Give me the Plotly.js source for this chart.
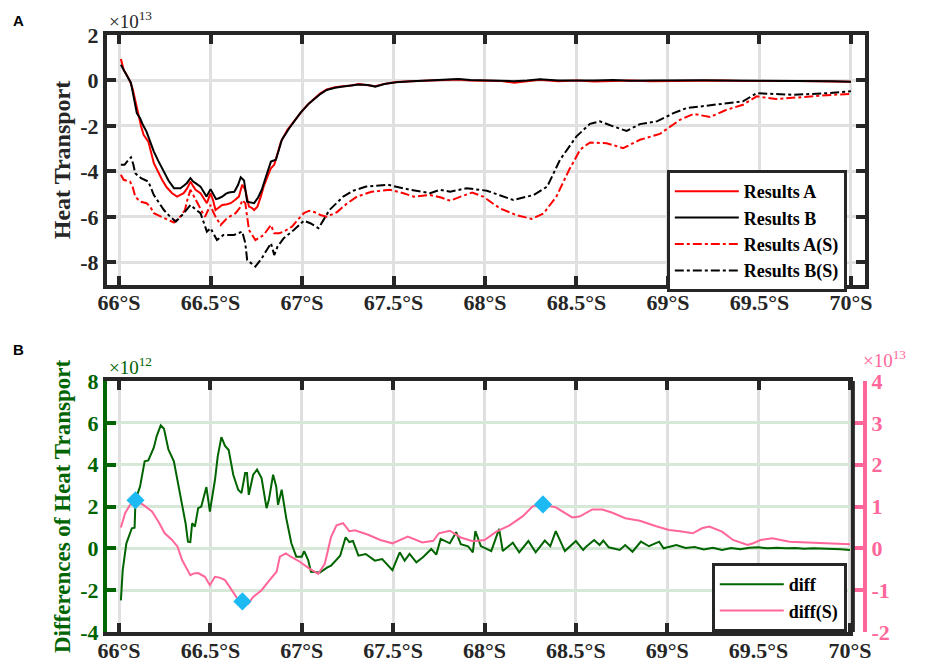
<!DOCTYPE html>
<html>
<head>
<meta charset="utf-8">
<script src="https://cdn.plot.ly/plotly-3.0.1.min.js"></script>
<style>html,body{margin:0;padding:0;background:#fff;}#chart{width:933px;height:664px;}</style>
</head>
<body>
<div id="chart"></div>
<script>
// ---- data (top panel values in units of 1e13; bottom: diff in 1e12, diff(S) in 1e13) ----
const latTicks = [66, 66.5, 67, 67.5, 68, 68.5, 69, 69.5, 70];
const latTickText = ['66°S', '66.5°S', '67°S', '67.5°S', '68°S', '68.5°S', '69°S', '69.5°S', '70°S'];
const topTicks = [-8, -6, -4, -2, 0, 2];
const topTickText = ['-8', '-6', '-4', '-2', '0', '2'];
const diffTicks = [-4, -2, 0, 2, 4, 6, 8];
const diffTickText = ['-4', '-2', '0', '2', '4', '6', '8'];
const diffSTicks = [-2, -1, 0, 1, 2, 3, 4];
const diffSTickText = ['-2', '-1', '0', '1', '2', '3', '4'];

const resultsA = [[66.01,0.94],[66.025,0.47],[66.045,0.2],[66.06,-0.04],[66.075,-0.4],[66.088,-0.85],[66.106,-1.58],[66.12,-2.0],[66.134,-2.39],[66.16,-2.69],[66.19,-3.64],[66.21,-4.0],[66.235,-4.37],[66.26,-4.7],[66.29,-4.96],[66.317,-5.11],[66.353,-4.96],[66.372,-4.75],[66.39,-4.45],[66.405,-4.65],[66.418,-4.81],[66.445,-4.96],[66.462,-5.15],[66.48,-5.40],[66.5,-4.96],[66.515,-5.3],[66.527,-5.70],[66.545,-5.6],[66.564,-5.48],[66.59,-5.45],[66.61,-5.40],[66.635,-5.25],[66.655,-5.11],[66.673,-4.59],[66.69,-4.81],[66.71,-5.55],[66.725,-5.6],[66.738,-5.70],[66.756,-5.55],[66.775,-5.1],[66.79,-4.67],[66.81,-4.25],[66.83,-3.86],[66.848,-3.71],[66.865,-3.2],[66.885,-2.69],[66.92,-2.17],[66.95,-1.85],[66.976,-1.59],[67.0,-1.35],[67.03,-1.07],[67.06,-0.86],[67.1,-0.56],[67.135,-0.39],[67.18,-0.3],[67.225,-0.25],[67.27,-0.22],[67.31,-0.16],[67.36,-0.2],[67.40,-0.25],[67.45,-0.15],[67.515,-0.07],[67.6,-0.03],[67.71,-0.01],[67.8,0.02],[67.855,0.04],[67.92,0.0],[68.0,-0.02],[68.09,-0.02],[68.16,-0.1],[68.23,-0.05],[68.3,0.03],[68.4,-0.03],[68.5,0.0],[68.6,-0.05],[68.7,-0.01],[68.8,0.0],[68.9,-0.03],[69.0,-0.02],[69.1,0.0],[69.2,-0.01],[69.3,0.0],[69.4,-0.02],[69.5,-0.01],[69.6,0.0],[69.7,-0.02],[69.8,-0.03],[69.9,-0.03],[70.0,-0.06]];

const resultsB = [[66.01,0.69],[66.025,0.45],[66.04,0.25],[66.065,-0.11],[66.08,-0.7],[66.097,-1.44],[66.115,-1.66],[66.13,-1.95],[66.15,-2.25],[66.17,-2.7],[66.19,-3.13],[66.215,-3.55],[66.245,-4.0],[66.27,-4.4],[66.30,-4.74],[66.335,-4.74],[66.355,-4.62],[66.37,-4.52],[66.39,-4.30],[66.405,-4.45],[66.418,-4.52],[66.445,-4.67],[66.462,-4.9],[66.478,-5.11],[66.5,-4.78],[66.515,-5.0],[66.53,-5.22],[66.545,-5.18],[66.564,-5.11],[66.585,-4.98],[66.6,-4.93],[66.63,-4.90],[66.65,-4.6],[66.665,-4.26],[66.683,-4.40],[66.70,-5.33],[66.72,-5.35],[66.738,-5.40],[66.76,-5.15],[66.78,-4.81],[66.80,-4.3],[66.83,-3.57],[66.857,-3.49],[66.875,-3.0],[66.89,-2.61],[66.93,-2.10],[66.96,-1.75],[66.99,-1.44],[67.04,-1.0],[67.07,-0.8],[67.10,-0.6],[67.135,-0.42],[67.18,-0.32],[67.225,-0.27],[67.27,-0.22],[67.31,-0.18],[67.36,-0.2],[67.40,-0.27],[67.45,-0.16],[67.515,-0.08],[67.6,-0.04],[67.71,-0.01],[67.8,0.03],[67.855,0.06],[67.92,0.02],[68.0,0.0],[68.09,-0.01],[68.16,-0.03],[68.23,0.0],[68.3,0.05],[68.4,0.0],[68.5,-0.01],[68.6,0.0],[68.7,0.02],[68.8,-0.01],[68.9,0.0],[69.0,0.01],[69.1,0.0],[69.2,0.01],[69.3,0.0],[69.4,0.0],[69.5,0.0],[69.6,0.0],[69.7,-0.01],[69.8,-0.02],[69.9,-0.03],[70.0,-0.06]];

const resultsAS = [[66.01,-4.15],[66.025,-4.37],[66.06,-4.45],[66.075,-4.7],[66.088,-5.11],[66.1,-5.2],[66.115,-5.33],[66.15,-5.40],[66.17,-5.55],[66.19,-5.84],[66.22,-5.95],[66.245,-6.06],[66.27,-6.15],[66.30,-6.25],[66.335,-5.99],[66.36,-5.70],[66.375,-5.2],[66.39,-4.81],[66.41,-5.11],[66.436,-5.55],[66.455,-5.8],[66.47,-5.99],[66.5,-5.48],[66.515,-5.8],[66.527,-5.99],[66.555,-6.36],[66.59,-6.06],[66.637,-5.84],[66.66,-5.6],[66.673,-5.26],[66.69,-5.40],[66.71,-6.58],[66.745,-7.02],[66.79,-6.80],[66.83,-6.36],[66.848,-6.72],[66.875,-6.72],[66.9,-6.65],[66.945,-6.43],[66.98,-6.1],[67.01,-5.84],[67.04,-5.73],[67.07,-5.8],[67.1,-5.92],[67.135,-5.99],[67.19,-5.8],[67.24,-5.45],[67.30,-5.11],[67.38,-4.9],[67.48,-4.81],[67.55,-4.95],[67.61,-5.11],[67.70,-5.04],[67.76,-5.15],[67.81,-5.29],[67.87,-5.1],[67.93,-4.93],[67.99,-5.11],[68.08,-5.62],[68.17,-5.92],[68.255,-6.09],[68.32,-5.85],[68.39,-5.11],[68.46,-3.93],[68.52,-3.05],[68.555,-2.83],[68.575,-2.73],[68.665,-2.76],[68.755,-2.98],[68.847,-2.61],[68.956,-2.35],[69.066,-1.73],[69.14,-1.47],[69.23,-1.61],[69.32,-1.29],[69.41,-1.07],[69.485,-0.70],[69.59,-0.82],[69.76,-0.70],[69.9,-0.63],[70.0,-0.59]];

const resultsBS = [[66.01,-3.71],[66.03,-3.71],[66.05,-3.5],[66.065,-3.38],[66.078,-3.7],[66.088,-4.08],[66.12,-4.30],[66.16,-4.45],[66.19,-5.04],[66.22,-5.4],[66.245,-5.70],[66.28,-6.0],[66.31,-6.21],[66.345,-5.92],[66.39,-5.48],[66.418,-5.67],[66.445,-5.84],[66.48,-6.65],[66.5,-6.50],[66.535,-7.02],[66.57,-6.80],[66.628,-6.80],[66.673,-6.65],[66.69,-7.16],[66.70,-7.90],[66.745,-8.19],[66.78,-7.82],[66.83,-7.16],[66.848,-7.68],[66.866,-7.31],[66.90,-6.94],[66.955,-6.58],[67.01,-6.17],[67.045,-6.28],[67.09,-6.5],[67.12,-6.1],[67.15,-5.70],[67.225,-5.11],[67.28,-4.85],[67.35,-4.67],[67.47,-4.59],[67.59,-4.81],[67.70,-4.96],[67.755,-4.81],[67.81,-4.89],[67.90,-4.74],[68.01,-4.85],[68.08,-5.05],[68.155,-5.26],[68.265,-5.04],[68.34,-4.67],[68.41,-3.49],[68.50,-2.46],[68.574,-1.91],[68.628,-1.80],[68.70,-2.02],[68.774,-2.22],[68.847,-1.92],[68.94,-1.80],[69.03,-1.44],[69.10,-1.22],[69.21,-1.11],[69.32,-1.0],[69.41,-0.92],[69.485,-0.56],[69.575,-0.59],[69.685,-0.63],[69.87,-0.56],[70.0,-0.48]];

const diffSeries = [[66.01,-2.49],[66.02,-1.04],[66.04,0.24],[66.07,0.96],[66.085,0.99],[66.09,2.32],[66.115,2.96],[66.14,4.16],[66.16,4.2],[66.19,4.81],[66.206,5.37],[66.228,5.88],[66.246,5.72],[66.27,4.73],[66.30,4.16],[66.318,3.28],[66.345,2.16],[66.364,1.20],[66.377,0.32],[66.39,0.30],[66.40,1.2],[66.415,1.04],[66.433,1.92],[66.45,2.0],[66.478,2.93],[66.497,1.76],[66.525,3.28],[66.54,4.40],[66.56,5.32],[66.58,4.9],[66.6,4.7],[66.625,3.52],[66.652,2.80],[66.67,2.64],[66.69,3.6],[66.70,3.6],[66.71,2.56],[66.734,3.52],[66.755,3.76],[66.78,3.36],[66.807,1.92],[66.82,2.32],[66.843,3.52],[66.86,2.96],[66.87,2.08],[66.89,2.80],[66.915,1.44],[66.943,0.24],[66.97,-0.40],[67.0,-0.4],[67.013,-0.13],[67.035,-0.56],[67.05,-1.12],[67.09,-1.12],[67.1,-1.15],[67.14,-0.91],[67.16,-0.83],[67.21,-0.35],[67.24,0.53],[67.26,0.3],[67.28,0.35],[67.31,-0.35],[67.35,-0.27],[67.40,-0.59],[67.44,-0.51],[67.496,-1.04],[67.536,-0.19],[67.563,-0.59],[67.59,-0.27],[67.627,-0.67],[67.663,-0.43],[67.709,-0.03],[67.736,-0.30],[67.76,0.45],[67.81,0.24],[67.845,0.77],[67.87,0.2],[67.91,0.1],[67.936,-0.19],[67.95,0.82],[67.98,0.11],[68.037,-0.13],[68.08,0.93],[68.10,-0.13],[68.155,0.27],[68.19,-0.19],[68.24,0.35],[68.28,-0.19],[68.33,0.37],[68.36,0.1],[68.39,0.82],[68.44,-0.13],[68.50,0.35],[68.54,-0.08],[68.556,0.08],[68.60,0.40],[68.63,0.16],[68.65,0.37],[68.68,0.05],[68.74,-0.08],[68.77,0.16],[68.81,-0.16],[68.856,0.32],[68.90,0.1],[68.956,0.32],[68.98,0.0],[69.05,0.16],[69.1,0.02],[69.15,0.06],[69.2,-0.05],[69.25,0.03],[69.3,-0.08],[69.35,0.02],[69.4,-0.04],[69.45,0.03],[69.5,0.05],[69.55,0.0],[69.6,0.03],[69.65,0.0],[69.7,0.02],[69.75,-0.02],[69.8,0.01],[69.85,0.0],[69.9,-0.02],[69.95,-0.04],[70.0,-0.08]];

const diffSSeries = [[66.01,0.50],[66.033,0.84],[66.06,1.04],[66.093,1.14],[66.133,1.04],[66.18,0.88],[66.215,0.64],[66.25,0.36],[66.29,0.20],[66.32,0.04],[66.345,-0.28],[66.39,-0.64],[66.41,-0.6],[66.433,-0.59],[66.47,-0.68],[66.497,-0.88],[66.525,-0.68],[66.55,-0.7],[66.58,-0.76],[66.625,-1.04],[66.652,-1.23],[66.676,-1.28],[66.707,-1.32],[66.734,-1.16],[66.78,-1.0],[66.816,-0.80],[66.862,-0.56],[66.88,-0.20],[66.913,-0.12],[66.94,-0.2],[66.989,-0.32],[67.04,-0.48],[67.09,-0.61],[67.126,-0.37],[67.16,0.27],[67.19,0.55],[67.226,0.60],[67.26,0.41],[67.29,0.43],[67.36,0.33],[67.43,0.20],[67.496,0.12],[67.54,0.2],[67.58,0.28],[67.66,0.14],[67.72,0.18],[67.75,0.36],[67.81,0.42],[67.87,0.26],[67.936,0.17],[68.0,0.2],[68.065,0.40],[68.137,0.55],[68.21,0.77],[68.265,1.01],[68.32,1.05],[68.39,0.98],[68.48,0.74],[68.52,0.76],[68.59,0.93],[68.645,0.93],[68.70,0.85],[68.77,0.72],[68.85,0.66],[68.94,0.53],[69.01,0.44],[69.07,0.41],[69.14,0.36],[69.19,0.48],[69.23,0.52],[69.30,0.40],[69.36,0.20],[69.44,0.08],[69.47,0.12],[69.51,0.20],[69.575,0.24],[69.67,0.16],[69.80,0.14],[70.0,0.10]];

const extremaMarks = [[66.09,1.15],[66.675,-1.27],[68.32,1.05]];

// ---- styling ----
const SERIF = 'Liberation Serif, Times New Roman, serif';
const FRAME = '#262626';
const GREEN = '#006400';
const PINK = '#ff6699';
const DASHDOT = '9px,3px,3px,3px';
const xs = a => a.map(p => p[0]);
const ys = a => a.map(p => p[1]);

const traces = [
  {x: xs(resultsA), y: ys(resultsA), name: 'Results A', mode: 'lines', xaxis: 'x', yaxis: 'y', line: {color: '#ff0000', width: 2}, legend: 'legend'},
  {x: xs(resultsB), y: ys(resultsB), name: 'Results B', mode: 'lines', xaxis: 'x', yaxis: 'y', line: {color: '#000000', width: 2}, legend: 'legend'},
  {x: xs(resultsAS), y: ys(resultsAS), name: 'Results A(S)', mode: 'lines', xaxis: 'x', yaxis: 'y', line: {color: '#ff0000', width: 2, dash: DASHDOT}, legend: 'legend'},
  {x: xs(resultsBS), y: ys(resultsBS), name: 'Results B(S)', mode: 'lines', xaxis: 'x', yaxis: 'y', line: {color: '#000000', width: 2, dash: DASHDOT}, legend: 'legend'},
  {x: xs(diffSeries), y: ys(diffSeries), name: 'diff', mode: 'lines', xaxis: 'x2', yaxis: 'y2', line: {color: GREEN, width: 2}, legend: 'legend2'},
  {x: xs(diffSSeries), y: ys(diffSSeries), name: 'diff(S)', mode: 'lines', xaxis: 'x2', yaxis: 'y3', line: {color: PINK, width: 2}, legend: 'legend2'},
  {x: xs(extremaMarks), y: ys(extremaMarks), name: 'extrema', mode: 'markers', xaxis: 'x2', yaxis: 'y3', showlegend: false, marker: {symbol: 'diamond', size: 14, color: '#1cb9f2'}}
];

const tickFont = c => ({family: SERIF, size: 22, weight: 'bold', color: c});
const topAxisCommon = {
  showline: true, linecolor: FRAME, linewidth: 4, mirror: 'ticks',
  ticks: 'inside', ticklen: 9, tickwidth: 4, tickcolor: FRAME,
  showgrid: true, gridcolor: '#e0e0e0', gridwidth: 3, zeroline: false,
  tickfont: tickFont(FRAME), tickmode: 'array'
};

const layout = {
  width: 933, height: 664,
  margin: {l: 107, r: 68, t: 35, b: 32},
  paper_bgcolor: '#ffffff', plot_bgcolor: '#ffffff',
  showlegend: true,
  xaxis: Object.assign({}, topAxisCommon, {domain: [0, 1], anchor: 'y', range: [65.934, 70.077], tickvals: latTicks, ticktext: latTickText, ticklabelstandoff: -5}),
  yaxis: Object.assign({}, topAxisCommon, {domain: [0.5812, 1], anchor: 'x', range: [-9, 2], tickvals: topTicks, ticktext: topTickText,
    title: {text: 'Heat Transport', font: {family: SERIF, size: 24, weight: 'bold', color: FRAME}, standoff: 4}}),
  xaxis2: Object.assign({}, topAxisCommon, {domain: [0, 0.984], anchor: 'y2', range: [65.934, 70.016], tickvals: latTicks, ticktext: latTickText, ticklabelstandoff: -4}),
  yaxis2: {domain: [0, 0.4204], anchor: 'x2', range: [-4, 8], tickmode: 'array', tickvals: diffTicks, ticktext: diffTickText,
    showline: true, linecolor: GREEN, linewidth: 4, mirror: false,
    ticks: 'inside', ticklen: 9, tickwidth: 4, tickcolor: GREEN,
    showgrid: true, gridcolor: '#d8e8d8', gridwidth: 3, zeroline: false, tickfont: tickFont(GREEN),
    title: {text: 'Differences of Heat Transport', font: {family: SERIF, size: 23, weight: 'bold', color: GREEN}, standoff: 4}},
  yaxis3: {overlaying: 'y2', side: 'right', anchor: 'free', position: 1, range: [-2, 4], tickmode: 'array', tickvals: diffSTicks, ticktext: diffSTickText,
    showline: true, linecolor: PINK, linewidth: 4, ticks: 'inside', ticklen: 9, tickwidth: 4, tickcolor: PINK,
    showgrid: false, zeroline: false, tickfont: tickFont(PINK)},
  legend: {x: 0.976, xanchor: 'right', y: 0.7739, yanchor: 'top', bgcolor: '#ffffff', bordercolor: FRAME, borderwidth: 3,
    font: {family: SERIF, size: 18, weight: 'bold', color: '#000'}, itemwidth: 64, tracegroupgap: 0},
  legend2: {x: 0.976, xanchor: 'right', y: 0.1156, yanchor: 'top', bgcolor: '#ffffff', bordercolor: FRAME, borderwidth: 3,
    font: {family: SERIF, size: 18, weight: 'bold', color: '#000'}, itemwidth: 64, tracegroupgap: 0},
  shapes: [
    {type: 'line', xref: 'x2 domain', yref: 'y2 domain', x0: 1, x1: 1, y0: 0, y1: 1, line: {color: FRAME, width: 4}}
  ],
  annotations: [
    {text: '×10<sup>13</sup>', xref: 'paper', yref: 'paper', x: 0, y: 1, xanchor: 'left', yanchor: 'bottom', yshift: 1, showarrow: false, font: {family: SERIF, size: 19, color: FRAME}},
    {text: '×10<sup>12</sup>', xref: 'paper', yref: 'paper', x: 0, y: 0.4204, xanchor: 'left', yanchor: 'bottom', yshift: 1, showarrow: false, font: {family: SERIF, size: 19, color: GREEN}},
    {text: '×10<sup>13</sup>', xref: 'paper', yref: 'paper', x: 1, y: 0.4204, xanchor: 'left', yanchor: 'bottom', xshift: -4, yshift: 8, showarrow: false, font: {family: SERIF, size: 19, color: PINK}},
    {text: '<b>A</b>', xref: 'paper', yref: 'paper', x: -0.1174, y: 1.0251, xanchor: 'center', yanchor: 'middle', showarrow: false, font: {family: 'Liberation Sans, Arial, sans-serif', size: 15, color: '#000'}},
    {text: '<b>B</b>', xref: 'paper', yref: 'paper', x: -0.1174, y: 0.4724, xanchor: 'center', yanchor: 'middle', showarrow: false, font: {family: 'Liberation Sans, Arial, sans-serif', size: 15, color: '#000'}}
  ]
};

Plotly.newPlot('chart', traces, layout, {displayModeBar: false, staticPlot: true});
</script>
</body>
</html>
